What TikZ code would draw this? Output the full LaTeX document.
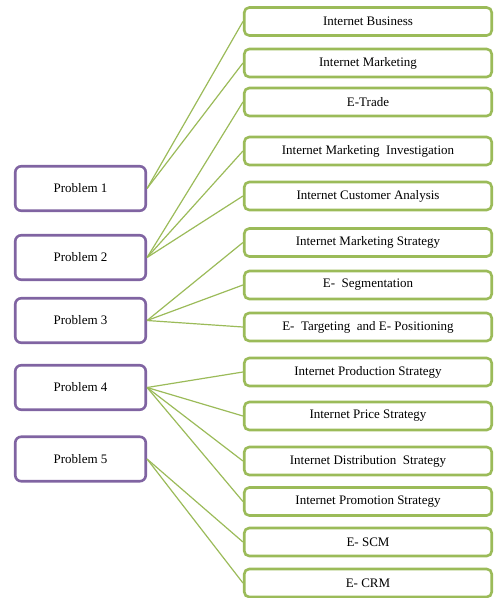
\documentclass[tikz,border=0pt]{standalone}
\usepackage{fontspec}
\setmainfont{Liberation Serif}
\definecolor{probpurple}{HTML}{8064A2}
\definecolor{itemgreen}{HTML}{9BBB59}
\begin{document}
\begin{tikzpicture}[x=1pt,y=-1pt,
  probbox/.style={draw=probpurple,line width=2.6pt,rounded corners=6pt,fill=white,
    minimum width=130.5pt,minimum height=44.5pt,inner sep=0pt,font=\fontsize{13}{15}\selectfont},
  itembox/.style={draw=itemgreen,line width=2.6pt,rounded corners=5pt,fill=white,
    minimum width=247.5pt,minimum height=28pt,inner sep=0pt,font=\fontsize{13}{15}\selectfont},
  link/.style={draw=itemgreen,line width=1.2pt}]
\useasboundingbox (0,0) rectangle (495,598);
% right items
\node[itembox] (i1)  at (368,21.5) {Internet Business};
\node[itembox] (i2)  at (368,63)   {Internet Marketing};
\node[itembox] (i3)  at (368,102)  {E-Trade};
\node[itembox] (i4)  at (368,151)  {Internet Marketing\ \ Investigation};
\node[itembox] (i5)  at (368,196)  {Internet Customer Analysis};
\node[itembox] (i6)  at (368,242.5){Internet Marketing Strategy};
\node[itembox] (i7)  at (368,285)  {E-\ \ Segmentation};
\node[itembox] (i8)  at (368,327)  {E-\ \ Targeting\ \ and E- Positioning};
\node[itembox] (i9)  at (368,372)  {Internet Production Strategy};
\node[itembox] (i10) at (368,416)  {Internet Price Strategy};
\node[itembox] (i11) at (368,461)  {Internet Distribution\ \ Strategy};
\node[itembox] (i12) at (368,501.5){Internet Promotion Strategy};
\node[itembox] (i13) at (368,542)  {E- SCM};
\node[itembox] (i14) at (368,583)  {E- CRM};
% left problems
\node[probbox] (p1) at (80.5,188.5) {Problem 1};
\node[probbox] (p2) at (80.5,257.5) {Problem 2};
\node[probbox] (p3) at (80.5,320.5) {Problem 3};
\node[probbox] (p4) at (80.5,387.5) {Problem 4};
\node[probbox] (p5) at (80.5,459)   {Problem 5};
% connectors
\foreach \a/\b in {p1/i1,p1/i2,p2/i3,p2/i4,p2/i5,p3/i6,p3/i7,p3/i8,p4/i9,p4/i10,p4/i11,p4/i12,p5/i13,p5/i14}
  \draw[link] (\a.east) -- (\b.west);
\end{tikzpicture}
\end{document}
